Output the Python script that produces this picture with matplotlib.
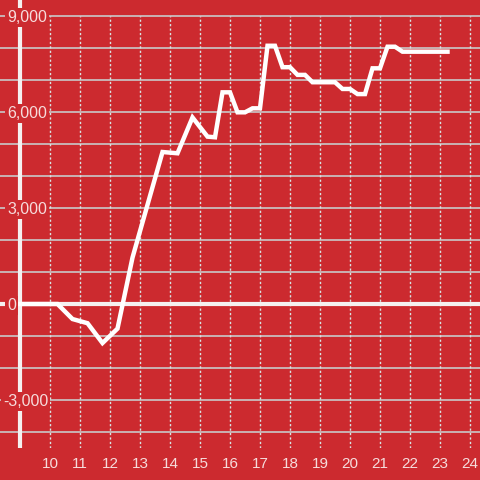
import matplotlib
matplotlib.use("Agg")
import matplotlib.pyplot as plt
import matplotlib.transforms as mtransforms

hours = [9.0, 10.25, 10.75, 11.25, 11.75, 12.25, 12.75, 13.25, 13.75, 14.25,
         14.75, 15.25, 15.5, 15.75, 16.0, 16.25, 16.5, 16.75, 17.0, 17.25,
         17.5, 17.75, 18.0, 18.25, 18.5, 18.75, 19.0, 19.5, 19.75, 20.0,
         20.25, 20.5, 20.75, 21.0, 21.25, 21.5, 21.75, 23.25]
values = [0, 0, -470, -600, -1220, -770, 1450, 3100, 4750, 4710,
          5830, 5230, 5210, 6615, 6615, 5990, 5990, 6115, 6115, 8070,
          8070, 7400, 7400, 7160, 7160, 6930, 6930, 6930, 6720, 6720,
          6560, 6560, 7365, 7365, 8040, 8040, 7885, 7885]

x_ticks = list(range(10, 25))
y_major = [-3000, 0, 3000, 6000, 9000]
y_labels = ["-3,000", "0", "3,000", "6,000", "9,000"]
y_grid = list(range(-4000, 10000, 1000))

BG = "#cc2a2f"
TXT = "#f6dcdc"
fig = plt.figure(figsize=(4.8, 4.8), dpi=100, facecolor=BG)
ax = fig.add_axes([0, 32 / 480, 1, 448 / 480])
ax.set_facecolor(BG)
for s in ax.spines.values():
    s.set_visible(False)

ymin, ymax = -4500, 9500
ax.set_xlim(9 - 20 / 30, 9 + 460 / 30)
ax.set_ylim(ymin, ymax)

for g in y_grid:
    if g == 0:
        continue
    ax.axhline(g, color="#c9c9c9", lw=1.2, zorder=1)
for xt in x_ticks:
    ax.plot([xt, xt], [ymin, 9000], color="#d8e4e4", lw=1, ls=(0, (1.6, 1.6)), zorder=1)

ax.axhline(0, xmin=0, xmax=1, color="#f5f0f0", lw=3, zorder=2)
ax.plot([9, 9], [ymin, 9500], color="#f5f0f0", lw=3, zorder=2, solid_capstyle="butt")

ax.plot(hours, values, color="white", lw=3.2, zorder=4, solid_joinstyle="miter")

ax.set_xticks([])
ax.set_yticks([])

trans = mtransforms.blended_transform_factory(ax.transAxes, ax.transData)
for v, lab in zip(y_major, y_labels):
    xpos = (3 if lab.startswith("-") else 7) / 480
    ax.text(xpos, v, lab, transform=trans, ha="left", va="center_baseline",
            fontsize=11.5, color=TXT, family="Liberation Sans", zorder=5,
            bbox=dict(facecolor=BG, edgecolor="none", pad=1.5))

transx = mtransforms.blended_transform_factory(ax.transData, fig.transFigure)
for xt in x_ticks:
    ax.text(xt, 18 / 480, str(xt), transform=transx, ha="center", va="center_baseline",
            fontsize=11, color=TXT, family="Liberation Sans", clip_on=False)

fig.savefig("out.png", dpi=100, facecolor=BG)
